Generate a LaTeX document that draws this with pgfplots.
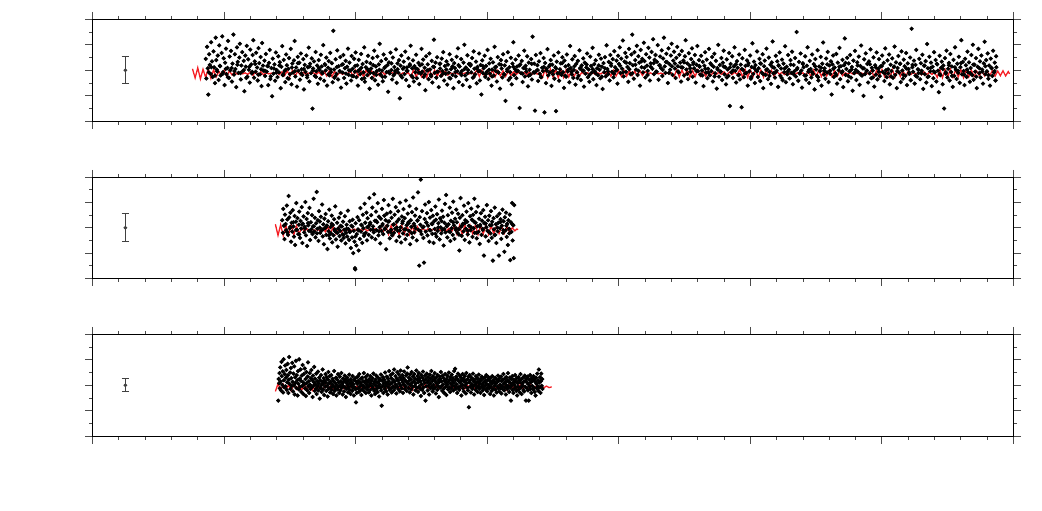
\documentclass[border=0pt]{standalone}
\usepackage{pgfplots}
\pgfplotsset{compat=1.18}
\definecolor{modelred}{RGB}{245,30,36}
\pgfplotsset{
  lcpanel/.style={
    scale only axis, width=460.5pt, height=51pt, anchor=south west,
    xmin=0, xmax=7000, ymin=-200, ymax=200,
    xtick distance=1000, ytick distance=100,
    minor x tick num=4, minor y tick num=1,
    tick align=outside, xticklabels={}, yticklabels={},
    major tick length=3.75pt, minor tick length=1.75pt,
    axis line style={line width=0.6pt},
    tick style={black!70, line width=0.45pt},
  },
  dots/.style={only marks, mark=*, mark size=0.85pt, mark options={fill=black, draw=none}},
  model/.style={no marks, modelred, line width=0.65pt},
  ebar/.style={black!75, mark=*, mark size=0.7pt,
    error bars/.cd, y dir=both, y explicit,
    error bar style={line width=0.45pt, black!75},
    error mark options={rotate=90, mark size=1.9pt, line width=0.45pt, black!75}},
}
\begin{document}
\begin{tikzpicture}
\path[use as bounding box] (0,0) rectangle (521pt,255pt);

% top panel
\begin{axis}[lcpanel, at={(46.25pt,194.35pt)}]
\addplot[ebar] coordinates {(250,0) +- (0,53)};
\addplot[dots] coordinates {
(861,45)(865,-32)(871,92)(876,8)(880,-95)(887,63)(891,21)(898,-14)(902,110)(909,35)
(913,-26)(920,74)(924,12)(931,-50)(936,128)(941,40)(948,-4)(952,58)(959,-38)(963,98)
(970,16)(974,-20)(981,68)(986,133)(992,-7)(997,47)(1004,-58)(1008,30)(1015,85)(1019,-15)
(1026,9)(1030,115)(1037,-30)(1042,54)(1048,0)(1053,76)(1060,-44)(1064,26)(1071,140)(1075,-17)
(1082,63)(1086,5)(1093,-66)(1098,90)(1104,33)(1109,-10)(1116,50)(1120,104)(1127,-36)(1131,19)
(1138,71)(1143,-3)(1149,37)(1154,-82)(1161,58)(1165,14)(1172,96)(1177,-25)(1183,43)(1188,2)
(1195,-48)(1199,81)(1206,23)(1211,-12)(1217,60)(1222,118)(1228,-29)(1233,35)(1240,-6)(1244,69)
(1251,11)(1256,-40)(1262,87)(1267,28)(1273,-16)(1278,52)(1285,-62)(1289,107)(1296,18)(1300,-1)
(1307,38)(1312,-22)(1318,64)(1324,-5)(1329,17)(1336,-58)(1341,29)(1347,80)(1352,-34)(1359,9)
(1365,-102)(1370,46)(1376,-13)(1383,23)(1388,-41)(1394,70)(1400,1)(1406,-27)(1412,55)(1417,-8)
(1424,32)(1430,-70)(1435,14)(1442,95)(1447,-19)(1453,41)(1460,-3)(1465,-46)(1471,62)(1477,20)
(1483,-31)(1489,6)(1494,48)(1501,-15)(1507,84)(1512,-55)(1519,27)(1524,-9)(1531,39)(1536,115)
(1542,-24)(1548,11)(1554,-64)(1560,53)(1565,-2)(1572,30)(1577,-37)(1584,66)(1589,4)(1595,-18)
(1602,44)(1607,-75)(1613,21)(1619,-6)(1625,58)(1631,-28)(1636,12)(1643,89)(1648,-44)(1654,26)
(1660,-11)(1666,47)(1672,-150)(1677,7)(1684,35)(1689,-22)(1696,72)(1701,-4)(1707,19)(1713,-53)
(1719,40)(1724,2)(1731,-33)(1736,61)(1742,15)(1748,-12)(1754,99)(1760,-41)(1765,24)(1772,-1)
(1777,50)(1783,-60)(1790,10)(1795,36)(1801,-20)(1807,68)(1813,-7)(1819,28)(1825,-47)(1830,155)
(1836,3)(1843,-25)(1848,43)(1854,-14)(1860,78)(1866,-36)(1871,16)(1878,-3)(1883,52)(1889,-68)
(1895,22)(1901,-9)(1906,60)(1912,-30)(1918,8)(1924,37)(1930,-52)(1935,14)(1942,85)(1947,-18)
(1953,30)(1959,-1)(1965,-40)(1970,56)(1977,6)(1982,-23)(1988,45)(1994,-6)(2000,70)
(2006,-27)(2012,19)(2017,-60)(2024,41)(2029,2)(2035,-15)(2041,64)(2047,-34)(2053,25)(2059,-8)
(2065,90)(2070,-45)(2077,12)(2082,33)(2088,-19)(2094,57)(2100,-2)(2106,-72)(2112,28)(2117,7)
(2124,-30)(2129,48)(2135,-11)(2141,77)(2147,-39)(2153,15)(2159,-4)(2165,54)(2171,-57)(2176,23)
(2183,104)(2188,-16)(2194,36)(2200,-1)(2206,-43)(2212,62)(2218,9)(2224,-25)(2230,44)(2235,-7)
(2242,20)(2247,-84)(2253,31)(2259,-12)(2265,69)(2271,1)(2277,-36)(2283,50)(2288,-20)(2295,13)
(2300,-3)(2306,82)(2312,-49)(2318,27)(2324,-9)(2330,40)(2336,-110)(2341,18)(2348,58)(2353,-28)
(2359,6)(2365,34)(2371,-15)(2377,73)(2383,-38)(2389,11)(2394,-2)(2401,47)(2406,-62)(2412,24)
(2418,96)(2424,-21)(2430,8)(2436,39)(2442,-44)(2447,16)(2454,-8)(2459,61)(2465,-31)(2471,4)
(2477,29)(2483,-54)(2489,19)(2495,-13)(2501,84)(2506,-5)(2513,42)(2518,-26)(2524,10)(2530,-78)
(2536,55)(2542,-1)(2548,23)(2554,-35)(2560,66)(2566,3)(2571,-17)(2578,37)(2583,-48)(2589,14)
(2595,120)(2601,-10)(2607,30)(2613,-29)(2619,51)(2625,-6)(2631,-66)(2637,25)(2642,7)(2649,-22)
(2654,46)(2660,-3)(2666,71)(2672,-40)(2678,17)(2684,-14)(2690,35)(2696,-56)
(2702,22)(2708,-9)(2714,63)(2720,-32)(2725,5)(2731,41)(2737,-18)(2743,-70)(2749,28)(2755,9)
(2761,-24)(2767,53)(2773,-4)(2778,86)(2785,-46)(2790,15)(2796,-12)(2802,44)(2808,-2)(2814,-58)
(2820,30)(2826,100)(2832,-20)(2838,11)(2843,-37)(2850,59)(2855,1)(2861,25)(2867,-65)(2873,18)
(2879,-8)(2885,48)(2891,-29)(2897,74)(2903,6)(2908,-16)(2915,34)(2920,-51)(2926,13)(2932,-3)
(2938,66)(2944,-40)(2950,21)(2956,-95)(2962,39)(2968,-11)(2973,8)(2980,57)(2985,-26)(2991,17)
(2997,-6)(3003,80)(3009,-34)(3015,27)(3021,-13)(3026,45)(3033,-60)(3038,3)(3044,31)(3050,-21)
(3056,92)(3062,-2)(3068,14)(3074,-44)(3080,52)(3086,-9)(3092,24)(3097,-72)(3104,40)(3109,7)
(3115,-28)(3121,63)(3127,-15)(3133,19)(3139,-120)(3145,36)(3151,-4)(3157,71)(3162,-38)(3169,12)
(3174,-7)(3180,49)(3186,-55)(3192,26)(3198,110)(3204,-19)(3210,5)(3216,42)(3222,-31)(3227,15)
(3234,-2)(3239,58)(3246,-148)(3251,23)(3257,-11)(3263,37)(3269,-46)(3275,9)(3281,77)(3286,-24)
(3292,18)(3298,-5)(3304,55)(3310,-63)(3316,30)(3322,2)(3328,-17)(3334,44)(3340,-36)(3345,132)
(3352,-8)(3357,26)(3363,-158)(3369,60)(3375,-1)(3381,20)(3387,-42)(3393,35)
(3399,-14)(3405,67)(3411,-27)(3417,10)(3423,-3)(3429,48)(3435,-165)(3440,29)(3447,-50)(3452,6)
(3458,83)(3464,-20)(3470,16)(3476,-9)(3482,40)(3488,-61)(3494,22)(3500,-2)(3506,58)(3511,-33)
(3518,12)(3523,-160)(3529,34)(3535,-12)(3541,70)(3547,-41)(3553,4)(3559,27)(3565,-18)(3571,51)
(3576,-7)(3583,-69)(3588,38)(3595,15)(3600,-25)(3606,62)(3612,-4)(3618,20)(3624,-47)(3630,95)
(3635,9)(3642,-16)(3647,43)(3654,-30)(3659,1)(3665,56)(3671,-56)(3677,25)(3683,-8)(3689,37)
(3694,-22)(3701,78)(3706,6)(3712,-38)(3718,19)(3724,-1)(3730,47)(3736,-64)(3742,30)(3747,-13)
(3754,11)(3759,66)(3765,-27)(3771,3)(3777,-45)(3783,54)(3789,17)(3795,-9)(3801,88)(3806,-35)
(3813,24)(3818,-4)(3824,39)(3830,-58)(3836,8)(3842,-19)(3848,61)(3854,2)(3860,-31)(3865,46)
(3872,14)(3877,-73)(3884,28)(3889,-7)(3895,52)(3901,-24)(3907,98)(3913,5)(3919,-15)(3924,33)
(3930,-40)(3936,60)(3942,18)(3948,-6)(3954,44)(3960,-28)(3966,75)(3972,12)(3978,-2)(3983,38)
(3990,-52)(3995,57)(4001,25)(4007,90)(4013,-11)(4019,46)(4025,6)(4031,117)(4037,-24)(4043,34)
(4049,68)(4055,-6)(4060,52)(4066,13)(4072,-45)(4078,84)(4084,28)(4090,-15)(4096,62)(4102,140)
(4107,20)(4114,-33)(4119,71)(4125,40)(4131,3)(4137,96)(4143,-18)(4149,55)(4155,30)(4161,-60)
(4166,80)(4173,12)(4178,45)(4184,-8)(4190,108)(4196,36)(4202,-28)(4208,63)(4214,18)(4220,-2)
(4225,88)(4232,50)(4237,-40)(4243,27)(4249,72)(4255,6)(4261,122)(4267,-15)(4272,41)(4279,60)
(4284,-5)(4290,33)(4296,99)(4302,-37)(4308,20)(4314,54)(4320,9)(4326,78)(4331,-22)(4337,46)
(4343,128)(4349,15)(4355,-10)(4361,65)(4367,32)(4373,-50)(4378,86)(4385,24)(4390,2)(4396,58)
(4402,104)(4408,-18)(4414,38)(4420,73)(4426,7)(4432,-30)(4437,49)(4444,92)(4449,16)(4455,-8)
(4461,61)(4467,30)(4473,-44)(4479,76)(4485,11)(4491,38)(4496,-20)(4503,55)(4508,118)(4514,3)
(4520,27)(4526,-35)(4532,67)(4538,19)(4544,-6)(4550,44)(4556,86)(4561,-25)(4567,31)(4573,8)
(4579,60)(4585,-48)(4591,22)(4597,95)(4602,-3)(4609,40)(4614,14)(4620,-17)(4626,57)(4632,-1)
(4638,33)(4644,-62)(4650,18)(4656,71)(4662,-9)(4668,42)(4673,-31)(4679,6)(4685,84)(4691,-20)
(4697,27)(4703,-3)(4709,52)(4715,-44)(4721,14)(4726,65)(4732,-12)(4738,37)(4744,-72)(4750,9)
(4756,100)(4762,-25)(4768,21)(4774,-5)(4780,48)(4785,-38)(4791,30)(4797,77)(4803,-16)(4809,12)
(4815,-55)(4821,43)(4827,3)(4833,-22)(4839,68)(4844,-140)(4850,25)(4856,-8)(4862,55)(4868,-30)
(4874,15)(4880,90)(4886,-2)(4892,-48)(4898,36)(4903,10)(4909,-19)(4915,62)(4921,-36)(4927,22)
(4933,-145)(4939,47)(4945,1)(4951,-27)(4957,80)(4963,17)(4969,-11)(4975,39)(4980,-60)(4986,28)
(4992,-4)(4998,58)(5004,-33)(5010,13)(5016,106)(5022,-14)(5028,34)(5034,-50)(5039,20)(5045,-1)
(5051,74)(5057,-26)(5063,8)(5069,45)(5075,-42)(5081,26)(5087,-9)(5093,63)(5098,-70)(5104,16)
(5110,38)(5116,-18)(5122,85)(5128,4)(5134,-35)(5140,50)(5146,-6)(5152,22)(5157,-53)(5163,31)
(5169,113)(5175,-12)(5181,10)(5187,-29)(5193,57)(5199,-2)(5205,35)(5211,-65)(5216,19)(5222,70)
(5228,-21)(5234,7)(5240,42)(5246,-39)(5252,26)(5258,-7)(5264,94)(5270,-47)(5275,14)(5281,-16)
(5287,60)(5293,2)(5299,-32)(5305,40)(5311,-10)(5317,73)(5323,-55)(5329,21)(5334,-4)(5340,48)
(5346,-24)(5352,150)(5358,9)(5364,-41)(5370,33)(5376,-13)(5382,66)(5388,-1)(5393,-68)(5399,28)
(5405,12)(5411,-20)(5417,55)(5423,-37)(5429,18)(5435,90)(5441,-6)(5447,-50)(5452,37)(5458,5)
(5464,-28)(5470,62)(5476,-14)(5482,24)(5488,-75)(5494,44)(5500,3)(5506,-22)(5511,79)(5517,-40)
(5523,15)(5529,-3)(5535,53)(5541,-60)(5547,26)(5553,109)(5559,-17)(5565,8)(5570,-33)(5576,46)
(5582,-8)(5588,72)(5594,-46)(5600,19)(5606,-2)(5612,35)(5618,-95)(5624,23)(5629,58)(5635,-26)
(5641,11)(5647,-12)(5653,64)(5659,-52)(5665,30)(5671,0)(5677,88)(5683,-35)(5688,16)(5694,-9)
(5700,41)(5706,-66)(5712,20)(5718,125)(5724,-18)(5730,5)(5736,49)(5742,-43)(5747,27)(5753,-4)
(5759,60)(5765,-29)(5771,13)(5777,-80)(5783,38)(5789,-11)(5795,76)(5801,2)(5806,-38)(5812,31)
(5818,-6)(5824,54)(5830,-57)(5836,17)(5842,97)(5848,-21)(5854,8)(5860,-100)(5865,43)(5871,-15)
(5877,66)(5883,-3)(5889,25)(5895,-48)(5901,35)(5907,-12)(5913,82)(5919,-31)(5924,10)(5930,-1)
(5936,51)(5942,-64)(5948,20)(5954,-17)(5960,70)(5966,-36)(5972,6)(5978,44)(5983,-23)(5989,15)
(5995,-105)(6001,58)(6007,-7)(6013,29)(6019,-42)(6025,86)(6031,1)(6037,-27)(6042,39)(6048,-12)
(6054,62)(6060,-55)(6066,22)(6072,-3)(6078,47)(6084,-30)(6090,13)(6096,93)(6101,-18)(6107,31)
(6113,-70)(6119,9)(6125,56)(6131,-9)(6137,25)(6143,-46)(6149,74)(6155,-1)(6160,-33)(6166,42)
(6172,16)(6178,-21)(6184,68)(6190,-58)(6196,27)(6202,5)(6208,-14)(6214,50)(6219,-39)(6225,163)
(6231,12)(6237,-6)(6243,38)(6249,-52)(6255,21)(6261,80)(6267,-25)(6273,4)(6278,-11)(6284,45)
(6290,-35)(6296,28)(6302,-2)(6308,61)(6314,-73)(6320,18)(6326,-15)(6332,36)(6337,-48)(6343,103)
(6349,8)(6355,-24)(6361,53)(6367,-4)(6373,30)(6379,-62)(6385,14)(6391,-31)(6396,71)(6402,-8)
(6408,40)(6414,-44)(6420,23)(6426,-1)(6432,-86)(6438,57)(6444,-19)(6450,10)(6455,34)(6461,-55)
(6467,19)(6473,-150)(6479,48)(6485,-13)(6491,77)(6497,-28)(6503,6)(6509,29)(6514,-40)(6520,64)
(6526,-7)(6532,15)(6538,-65)(6544,41)(6550,-22)(6556,90)(6562,2)(6568,-34)(6573,26)(6579,-10)
(6585,53)(6591,-49)(6597,12)(6603,118)(6609,-16)(6615,33)(6621,-3)(6627,-58)(6632,45)(6638,20)
(6644,-26)(6650,73)(6656,-8)(6662,31)(6668,-45)(6674,9)(6680,60)(6686,-19)(6691,100)(6697,-37)
(6703,22)(6709,-5)(6715,48)(6721,-70)(6727,14)(6733,84)(6739,-11)(6745,35)(6750,-28)(6756,58)
(6762,3)(6768,-52)(6774,27)(6780,112)(6786,-15)(6792,40)(6798,-4)(6804,66)(6809,-33)(6815,19)
(6821,-60)(6827,46)(6833,8)(6839,-22)(6845,77)(6851,-9)(6857,30)(6863,-40)(6868,55)(6870,12)
(884,-8)(903,12)(931,-21)(944,3)(968,18)(990,-14)(1013,6)(1029,-27)(1057,9)(1079,-3)
(1101,22)(1124,-11)(1150,1)(1169,-30)(1193,14)(1214,-6)(1236,25)(1260,-17)(1281,4)(1310,-2)
(1333,16)(1355,-24)(1378,7)(1397,-9)(1421,19)(1449,-15)(1468,2)(1492,-33)(1515,11)(1538,-4)
(1561,28)(1586,-12)(1606,5)(1632,-20)(1651,15)(1675,-1)(1699,-26)(1720,9)(1744,-7)(1769,21)
(1791,-16)(1812,3)(1838,-29)(1858,13)(1881,-5)(1903,24)(1927,-13)(1949,0)(1973,-22)(1996,17)
(2019,-3)(2043,10)(2066,-31)(2087,6)(2111,-10)(2134,20)(2157,-18)(2180,2)(2203,-25)(2226,14)
(2250,-6)(2272,27)(2296,-14)(2319,4)(2343,-21)(2366,11)(2388,-2)(2411,18)(2435,-28)(2457,7)
(2480,-9)(2504,23)(2527,-16)(2550,1)(2574,-23)(2596,13)(2620,-5)(2643,26)(2666,-12)(2689,3)
(2712,-30)(2736,15)(2758,-7)(2782,20)(2805,-19)(2828,5)(2851,-11)(2874,24)(2898,-26)(2921,8)
(2944,-3)(2967,17)(2990,-15)(3014,2)(3037,-24)(3060,12)(3083,-8)(3106,22)(3130,-17)(3152,4)
(3176,-29)(3199,14)(3222,-4)(3245,19)(3268,-13)(3292,6)(3315,-21)(3338,25)(3361,-9)(3384,1)
(3408,-27)(3431,13)(3454,-2)(3477,21)(3500,-16)(3524,7)(3547,-10)(3570,28)(3593,-22)(3616,3)
(3640,-6)(3662,16)(3686,-31)(3709,10)(3732,-1)(3755,23)(3778,-18)(3802,5)(3825,-12)(3848,19)
(3871,-25)(3894,8)(3918,-4)(3941,26)(3963,-14)(3987,2)(4010,18)(4033,-8)(4056,30)(4080,4)
(4103,-12)(4126,22)(4149,-2)(4172,35)(4195,10)(4219,-18)(4242,14)(4265,28)(4288,-6)(4311,20)
(4334,2)(4358,33)(4381,-10)(4404,16)(4427,26)(4450,-4)(4473,12)(4496,31)(4520,-14)(4543,8)
(4566,24)(4589,-2)(4612,17)(4635,-20)(4658,6)(4681,-9)(4705,21)(4728,-24)(4751,3)(4774,-6)
(4797,15)(4821,-28)(4844,11)(4867,-1)(4890,24)(4913,-17)(4936,5)(4959,-12)(4982,20)(5006,-26)
(5029,9)(5052,-3)(5075,27)(5098,-15)(5121,2)(5145,-22)(5168,13)(5191,-8)(5214,18)(5237,-30)
(5260,7)(5283,-5)(5307,22)(5330,-16)(5353,4)(5376,-11)(5399,25)(5422,-20)(5445,1)(5468,-7)
(5492,16)(5515,-27)(5538,10)(5561,-2)(5584,23)(5607,-14)(5630,6)(5653,-19)(5677,14)(5700,-4)
(5723,29)(5746,-23)(5769,3)(5792,-10)(5815,19)(5838,-16)(5862,8)(5885,-1)(5908,24)(5931,-28)
(5954,11)(5977,-6)(6000,17)(6023,-13)(6047,4)(6070,-24)(6093,15)(6116,-3)(6139,26)(6162,-18)
(6185,7)(6208,-9)(6232,21)(6255,-21)(6278,2)(6301,-12)(6324,18)(6347,-26)(6370,9)(6393,-4)
(6417,25)(6440,-15)(6463,5)(6486,-8)(6509,20)(6532,-22)(6555,12)(6578,-1)(6601,28)(6625,-17)
(6648,3)(6671,-11)(6694,22)(6717,-25)(6740,8)(6763,-5)(6786,16)(6809,-19)(6832,10)(6856,-3)
};
\addplot[model] coordinates {
(760,6)(780,-30)(800,10)(820,-34)(840,4)(860,-28)(880,8)(900,-32)(920,2)(940,-26)
(960,-4)(980,-20)(1000,0)(1020,-24)(1040,-2)(1060,-18)(1080,-8)(1100,-15)(1120,-9)(1140,-14)
(1160,-10)(1180,-16)(1200,-6)(1220,-20)(1240,-3)(1260,-22)(1280,-5)(1300,-18)(1320,-9)(1340,-14)
(1360,-11)(1380,-13)(1400,-9)(1420,-17)(1440,-6)(1460,-21)(1480,-2)(1500,-24)(1520,0)(1540,-23)
(1560,-4)(1580,-19)(1600,-8)(1620,-15)(1640,-11)(1660,-13)(1680,-10)(1700,-16)(1720,-7)(1740,-19)
(1760,-4)(1780,-22)(1800,-1)(1820,-25)(1840,-3)(1860,-20)(1880,-7)(1900,-16)(1920,-10)(1940,-13)
(1960,0)(1980,-25)(2000,1)(2020,-23)(2040,-1)(2060,-26)(2080,2)(2100,-22)(2120,0)(2140,-24)
(2160,-2)(2180,-21)(2200,-4)(2220,-17)(2240,-8)(2260,-16)(2280,-9)(2300,-15)(2320,-8)(2340,-17)
(2360,-10)(2380,-14)(2400,-9)(2420,-26)(2440,2)(2460,-27)(2480,3)(2500,-25)(2520,0)(2540,-28)
(2560,4)(2580,-26)(2600,1)(2620,-24)(2640,-1)(2660,-22)(2680,-3)(2700,-19)(2720,-10)(2740,-14)
(2760,-9)(2780,-15)(2800,-10)(2820,-13)(2840,-9)(2860,-15)(2880,-11)(2900,-14)(2920,0)(2940,-24)
(2960,1)(2980,-25)(3000,-1)(3020,-23)(3040,2)(3060,-26)(3080,0)(3100,-22)(3120,-2)(3140,-24)
(3160,-4)(3180,-20)(3200,-6)(3220,-17)(3240,-7)(3260,-16)(3280,-8)(3300,-18)(3320,-7)(3340,-16)
(3360,-9)(3380,-15)(3400,-8)(3420,-28)(3440,4)(3460,-29)(3480,5)(3500,-27)(3520,3)(3540,-30)
(3560,4)(3580,-28)(3600,2)(3620,-26)(3640,1)(3660,-25)(3680,-1)(3700,-22)(3720,-8)(3740,-16)
(3760,-9)(3780,-15)(3800,-8)(3820,-16)(3840,-10)(3860,-14)(3880,-9)(3900,-15)(3920,-1)(3940,-23)
(3960,0)(3980,-22)(4000,-2)(4020,-24)(4040,1)(4060,-23)(4080,-1)(4100,-21)(4120,-3)(4140,-22)
(4160,-2)(4180,-20)(4200,-5)(4220,-14)(4240,-10)(4260,-15)(4280,-9)(4300,-14)(4320,-11)(4340,-15)
(4360,-9)(4380,-14)(4400,-10)(4420,-25)(4440,2)(4460,-26)(4480,1)(4500,-24)(4520,3)(4540,-27)
(4560,0)(4580,-25)(4600,2)(4620,-23)(4640,-1)(4660,-24)(4680,-3)(4700,-20)(4720,-7)(4740,-17)
(4760,-8)(4780,-16)(4800,-6)(4820,-18)(4840,-7)(4860,-17)(4880,-8)(4900,-16)(4920,3)(4940,-27)
(4960,4)(4980,-28)(5000,2)(5020,-26)(5040,5)(5060,-29)(5080,1)(5100,-27)(5120,3)(5140,-25)
(5160,0)(5180,-24)(5200,-2)(5220,-16)(5240,-8)(5260,-17)(5280,-9)(5300,-15)(5320,-8)(5340,-16)
(5360,-9)(5380,-15)(5400,-10)(5420,-24)(5440,0)(5460,-25)(5480,1)(5500,-23)(5520,-1)(5540,-24)
(5560,0)(5580,-22)(5600,2)(5620,-25)(5640,-1)(5660,-23)(5680,-2)(5700,-21)(5720,-10)(5740,-14)
(5760,-9)(5780,-15)(5800,-11)(5820,-13)(5840,-10)(5860,-14)(5880,-9)(5900,-15)(5920,2)(5940,-26)
(5960,1)(5980,-27)(6000,3)(6020,-25)(6040,0)(6060,-28)(6080,2)(6100,-26)(6120,1)(6140,-24)
(6160,-1)(6180,-25)(6200,-3)(6220,-17)(6240,-7)(6260,-16)(6280,-8)(6300,-18)(6320,-6)(6340,-17)
(6360,-8)(6380,-16)(6400,-7)(6420,-28)(6440,4)(6460,-29)(6480,3)(6500,-27)(6520,5)(6540,-28)
(6560,2)(6580,-26)(6600,3)(6620,-29)(6640,1)(6660,-26)(6680,0)(6700,-24)(6720,-3)(6740,-21)
(6760,-2)(6780,-22)(6800,-4)(6820,-20)(6840,-1)(6860,-23)(6880,-3)(6900,-21)(6920,-2)(6940,-22)
(6960,-5)(6970,-14)
};
\end{axis}

% middle panel
\begin{axis}[lcpanel, at={(46.25pt,115.85pt)}, height=50.5pt]
\addplot[ebar] coordinates {(250,0) +- (0,56)};
\addplot[dots] coordinates {
(1442,30)(1447,-20)(1450,75)(1455,8)(1459,-45)(1463,52)(1468,15)(1472,-10)(1477,88)(1481,33)
(1486,-28)(1490,126)(1495,41)(1499,-2)(1504,60)(1509,-55)(1513,20)(1518,-15)(1522,70)(1527,5)
(1531,-35)(1536,47)(1540,-68)(1545,24)(1549,98)(1554,-8)(1558,38)(1563,-25)(1568,12)(1572,64)
(1577,-40)(1581,27)(1586,-3)(1590,82)(1595,-60)(1599,16)(1604,45)(1609,-18)(1613,4)(1618,102)
(1622,-30)(1627,35)(1631,-72)(1636,58)(1640,10)(1645,-12)(1649,79)(1654,-48)(1659,22)(1663,-6)
(1668,50)(1672,-25)(1677,6)(1681,115)(1686,-15)(1690,40)(1695,-38)(1700,18)(1704,142)(1709,-4)
(1713,30)(1718,-52)(1722,66)(1727,1)(1731,-20)(1736,44)(1740,-10)(1745,92)(1750,-34)(1754,14)
(1759,-65)(1763,36)(1768,-1)(1772,55)(1777,-28)(1781,9)(1786,-84)(1791,26)(1795,-14)(1800,72)
(1804,-42)(1809,3)(1813,-22)(1818,48)(1822,-58)(1827,11)(1832,-30)(1836,34)(1841,-6)(1845,85)
(1850,-46)(1854,-18)(1859,20)(1863,-75)(1868,-2)(1873,40)(1877,-33)(1882,-12)(1886,58)(1891,-50)
(1895,5)(1900,-26)(1904,24)(1909,-40)(1914,-8)(1918,46)(1923,-62)(1927,-20)(1932,12)(1936,-35)
(1941,68)(1945,-5)(1950,-48)(1955,26)(1959,-15)(1964,-80)(1968,8)(1973,-38)(1977,32)(1982,-100)
(1986,-12)(1991,-55)(1995,-160)(1997,-165)(2000,18)(2005,-70)(2009,-25)(2014,42)(2018,-6)(2023,-90)
(2027,30)(2032,-44)(2036,78)(2041,-15)(2045,10)(2050,-60)(2055,52)(2059,-2)(2064,-32)(2068,95)
(2073,20)(2077,-20)(2082,60)(2086,-50)(2091,38)(2096,4)(2100,-28)(2105,118)(2109,14)(2114,-8)
(2118,50)(2123,-38)(2127,80)(2132,6)(2137,-18)(2141,133)(2146,28)(2150,-45)(2155,64)(2159,-10)
(2164,22)(2168,98)(2173,-30)(2177,44)(2182,2)(2187,-62)(2191,36)(2196,-12)(2200,75)(2205,15)
(2209,-25)(2214,110)(2218,48)(2223,-5)(2228,30)(2232,-85)(2237,56)(2241,8)(2246,-16)(2250,90)
(2255,26)(2259,-42)(2264,62)(2269,-8)(2273,40)(2278,-30)(2282,115)(2287,12)(2291,-20)(2296,52)
(2300,-4)(2305,82)(2310,-52)(2314,24)(2319,-12)(2323,66)(2328,34)(2332,-35)(2337,100)(2341,2)
(2346,-58)(2351,45)(2355,18)(2360,-22)(2364,74)(2369,-6)(2373,38)(2378,-45)(2382,108)(2387,10)
(2392,-28)(2396,56)(2401,22)(2405,-12)(2410,86)(2414,-65)(2419,30)(2423,4)(2428,62)(2433,-38)
(2437,120)(2442,16)(2446,-18)(2451,48)(2455,-2)(2460,75)(2464,-50)(2469,28)(2474,140)(2478,-8)
(2483,-150)(2487,42)(2492,12)(2495,191)(2501,-25)(2505,66)(2510,2)(2515,-40)(2520,-138)(2524,35)
(2528,92)(2533,-15)(2537,20)(2542,58)(2546,-30)(2551,8)(2556,102)(2560,-55)(2565,40)(2569,-10)
(2574,70)(2578,16)(2583,-24)(2587,48)(2592,-60)(2597,26)(2601,-4)(2606,84)(2610,32)(2615,-35)
(2619,54)(2624,-12)(2628,18)(2633,112)(2638,-46)(2642,38)(2647,2)(2651,-22)(2656,68)(2660,-8)
(2665,44)(2669,-70)(2674,20)(2679,95)(2683,-18)(2688,130)(2692,6)(2697,-38)(2701,50)(2706,14)
(2710,-14)(2715,80)(2720,-52)(2724,28)(2729,-2)(2733,60)(2738,-28)(2742,104)(2747,10)(2751,-44)
(2756,36)(2761,-8)(2765,72)(2770,22)(2774,-20)(2779,56)(2783,-6)(2788,-90)(2792,40)(2797,118)
(2802,4)(2806,-32)(2811,50)(2815,16)(2820,-14)(2824,88)(2829,-48)(2833,30)(2838,-4)(2843,64)
(2847,24)(2852,-26)(2856,98)(2861,8)(2865,-58)(2870,46)(2874,-10)(2879,76)(2884,32)(2888,-36)
(2893,52)(2897,-2)(2902,115)(2906,-20)(2911,20)(2915,62)(2920,-42)(2925,6)(2929,84)(2934,-16)
(2938,36)(2943,-64)(2947,12)(2952,58)(2956,-28)(2961,28)(2966,-8)(2970,70)(2975,-110)(2979,18)
(2984,44)(2988,-34)(2993,2)(2997,90)(3002,-12)(3007,30)(3011,-52)(3016,48)(3020,10)(3025,-22)
(3029,66)(3034,-40)(3038,24)(3043,-130)(3048,38)(3052,-6)(3057,80)(3061,-28)(3066,14)(3070,-60)
(3075,46)(3079,-14)(3084,20)(3089,-110)(3093,56)(3098,-2)(3102,34)(3107,-44)(3111,8)(3116,72)
(3120,-20)(3125,26)(3130,-95)(3134,42)(3139,-10)(3143,60)(3148,-36)(3152,16)(3157,-68)(3161,30)
(3166,-4)(3171,52)(3175,-128)(3180,22)(3184,-16)(3189,98)(3193,-50)(3198,10)(3202,-120)(3205,90)
(1458,10)(1481,-18)(1503,4)(1526,22)(1548,-9)(1571,-26)(1593,13)(1616,-3)(1638,19)(1661,-15)
(1683,6)(1706,-22)(1728,25)(1751,-7)(1773,2)(1796,-30)(1818,16)(1841,-12)(1863,-20)(1886,8)
(1908,-28)(1931,-4)(1953,-16)(1976,5)(1998,-34)(2021,-10)(2043,12)(2066,-24)(2088,3)(2111,20)
(2133,-8)(2156,28)(2178,-14)(2201,9)(2223,-2)(2246,24)(2268,-19)(2291,14)(2313,1)(2336,-11)
(2358,26)(2381,-6)(2403,18)(2426,-21)(2448,7)(2471,30)(2493,-13)(2516,4)(2538,21)(2561,-9)
(2583,15)(2606,-24)(2628,2)(2651,27)(2673,-5)(2696,12)(2718,-17)(2741,22)(2763,-1)(2786,-27)
(2808,9)(2831,19)(2853,-12)(2876,3)(2898,25)(2921,-20)(2943,6)(2966,-4)(2988,17)(3011,-15)
(3033,11)(3056,-29)(3078,1)(3101,23)(3123,-10)(3146,8)(3168,-22)(3191,14)
};
\addplot[model] coordinates {
(1390,14)(1410,-30)(1430,12)(1450,-32)(1470,10)(1490,-29)(1510,13)(1530,-28)(1550,8)(1570,-24)
(1590,0)(1610,-14)(1630,-4)(1650,-12)(1670,-5)(1690,-13)(1710,-3)(1730,-14)(1750,-2)(1770,-16)
(1790,4)(1810,-22)(1830,6)(1850,-24)(1870,2)(1890,-18)(1910,-4)(1930,-11)(1950,-6)(1970,-10)
(1990,-5)(2010,-11)(2030,-6)(2050,-10)(2070,-5)(2090,-12)(2110,-4)(2130,-13)(2150,-3)(2170,-14)
(2190,-2)(2210,-16)(2230,8)(2250,-26)(2270,10)(2290,-28)(2310,12)(2330,-27)(2350,9)(2370,-25)
(2390,11)(2410,-26)(2430,7)(2450,-22)(2470,4)(2490,-18)(2510,0)(2530,-14)(2550,-4)(2570,-12)
(2590,-5)(2610,-11)(2630,-4)(2650,-13)(2670,-3)(2690,-12)(2710,-2)(2730,-15)(2750,8)(2770,-26)
(2790,10)(2810,-27)(2830,12)(2850,-28)(2870,9)(2890,-25)(2910,11)(2930,-27)(2950,8)(2970,-24)
(2990,10)(3010,-26)(3030,9)(3050,-25)(3070,7)(3090,-23)(3110,6)(3130,-22)(3150,3)(3170,-18)
(3190,0)(3210,-12)(3225,-5)(3235,-7)
};
\end{axis}

% bottom panel
\begin{axis}[lcpanel, at={(46.25pt,36.85pt)}]
\addplot[ebar] coordinates {(250,0) +- (0,26)};
\addplot[dots] coordinates {
(1412,-60)(1415,25)(1418,8)(1421,48)(1424,-12)(1427,70)(1430,15)(1433,-20)(1436,92)(1439,36)
(1442,2)(1446,55)(1449,-28)(1452,102)(1455,20)(1458,-8)(1461,44)(1464,78)(1467,-4)(1470,30)
(1474,60)(1477,-18)(1480,12)(1483,84)(1486,40)(1489,-30)(1492,22)(1495,111)(1499,5)(1502,50)
(1505,-14)(1508,68)(1511,28)(1514,-2)(1518,88)(1521,14)(1524,-24)(1527,46)(1530,0)(1533,74)
(1537,-36)(1540,32)(1543,10)(1546,96)(1549,-10)(1552,40)(1556,20)(1559,-40)(1562,56)(1565,6)
(1568,-16)(1571,102)(1575,26)(1578,-6)(1581,62)(1584,18)(1587,-26)(1590,38)(1594,-2)(1597,80)
(1600,12)(1603,-34)(1606,44)(1609,4)(1613,66)(1616,-12)(1619,24)(1622,-42)(1625,52)(1628,8)
(1632,-20)(1635,34)(1638,90)(1641,-4)(1644,16)(1647,-30)(1651,48)(1654,2)(1657,-14)(1660,28)
(1663,60)(1666,-8)(1670,20)(1673,-46)(1676,38)(1679,-2)(1682,12)(1685,72)(1689,-22)(1692,26)
(1695,4)(1698,-12)(1701,46)(1704,-34)(1708,16)(1711,-4)(1714,54)(1717,-20)(1720,8)(1723,30)
(1727,-52)(1730,20)(1733,-10)(1736,40)(1739,0)(1742,-26)(1746,14)(1749,62)(1752,-16)(1755,6)
(1758,28)(1761,-38)(1765,18)(1768,-6)(1771,44)(1774,10)(1777,-22)(1780,32)(1784,-2)(1787,-44)
(1790,22)(1793,52)(1796,-14)(1799,8)(1803,36)(1806,-28)(1809,14)(1812,-8)(1815,40)(1818,-18)
(1822,4)(1825,26)(1828,-34)(1831,18)(1834,-4)(1837,56)(1841,-22)(1844,10)(1847,-12)(1850,30)
(1853,-40)(1856,2)(1860,22)(1863,-16)(1866,44)(1869,-6)(1872,12)(1875,-30)(1879,34)(1882,-2)
(1885,-20)(1888,16)(1891,48)(1894,-10)(1898,6)(1901,-36)(1904,26)(1907,-4)(1910,14)(1913,-24)
(1917,38)(1920,-8)(1923,20)(1926,-46)(1929,10)(1932,-14)(1936,30)(1939,2)(1942,-28)(1945,18)
(1948,-6)(1951,42)(1955,-18)(1958,8)(1961,-34)(1964,24)(1967,-2)(1970,12)(1974,-22)(1977,36)
(1980,-10)(1983,4)(1986,-40)(1989,20)(1993,-8)(1996,28)(1999,-16)(2002,-67)(2005,14)(2008,-30)
(2012,6)(2015,34)(2018,-12)(2021,18)(2024,-26)(2027,44)(2031,-4)(2034,10)(2037,-20)(2040,26)
(2043,-38)(2046,2)(2050,30)(2053,-14)(2056,16)(2059,-2)(2062,48)(2065,-24)(2069,12)(2072,-8)
(2075,32)(2078,-30)(2081,20)(2084,4)(2088,-16)(2091,40)(2094,-6)(2097,14)(2100,-28)(2103,24)
(2107,0)(2110,-18)(2113,36)(2116,8)(2119,-40)(2122,18)(2126,-4)(2129,28)(2132,-12)(2135,46)
(2138,6)(2141,-22)(2145,14)(2148,-34)(2151,22)(2154,-2)(2157,38)(2160,-14)(2164,10)(2167,-26)
(2170,30)(2173,-6)(2176,16)(2179,-44)(2183,4)(2186,24)(2189,-10)(2192,42)(2195,-20)(2198,-80)
(2202,18)(2205,-4)(2208,32)(2211,-30)(2214,8)(2217,22)(2221,-14)(2224,50)(2227,-2)(2230,12)
(2233,-24)(2236,34)(2240,6)(2243,-36)(2246,26)(2249,-8)(2252,16)(2255,56)(2259,-18)(2262,4)
(2265,40)(2268,-12)(2271,28)(2274,-28)(2278,10)(2281,46)(2284,-4)(2287,20)(2290,-20)(2293,62)
(2297,14)(2300,-10)(2303,36)(2306,2)(2309,-32)(2312,26)(2316,52)(2319,-6)(2322,18)(2325,-16)
(2328,44)(2331,8)(2335,-24)(2338,32)(2341,58)(2344,-2)(2347,22)(2350,-12)(2354,40)(2357,12)
(2360,-30)(2363,28)(2366,4)(2369,54)(2373,-14)(2376,20)(2379,-4)(2382,38)(2385,14)(2388,-22)
(2392,46)(2395,70)(2398,6)(2401,-10)(2404,30)(2407,18)(2411,-28)(2414,42)(2417,2)(2420,24)
(2423,-16)(2426,52)(2430,10)(2433,-6)(2436,34)(2439,-36)(2442,16)(2445,44)(2449,-2)(2452,26)
(2455,-20)(2458,8)(2461,58)(2464,-10)(2468,22)(2471,36)(2474,-26)(2477,12)(2480,48)(2483,-4)
(2487,28)(2490,-14)(2493,16)(2496,-42)(2499,40)(2502,4)(2506,-18)(2509,30)(2512,54)(2515,-8)
(2518,20)(2521,-30)(2525,10)(2528,38)(2531,-60)(2534,24)(2537,-4)(2540,46)(2544,12)(2547,-20)
(2550,32)(2553,-2)(2556,18)(2559,-36)(2563,42)(2566,6)(2569,-12)(2572,28)(2575,56)(2578,-6)
(2582,16)(2585,-24)(2588,36)(2591,2)(2594,-14)(2597,24)(2601,48)(2604,-8)(2607,14)(2610,-32)
(2613,30)(2616,8)(2620,-18)(2623,40)(2626,-2)(2629,20)(2632,-46)(2635,12)(2639,34)(2642,-10)
(2645,26)(2648,52)(2651,-4)(2654,16)(2658,-22)(2661,38)(2664,4)(2667,-14)(2670,28)(2673,-30)
(2677,18)(2680,44)(2683,-6)(2686,10)(2689,-38)(2692,24)(2696,2)(2699,36)(2702,-16)(2705,14)
(2708,50)(2711,-8)(2715,22)(2718,-26)(2721,32)(2724,6)(2727,-12)(2730,42)(2734,18)(2737,-2)
(2740,28)(2743,-20)(2746,10)(2749,56)(2753,-4)(2756,65)(2759,20)(2762,-14)(2765,34)(2768,4)
(2772,-30)(2775,24)(2778,46)(2781,-8)(2784,16)(2787,-18)(2791,38)(2794,10)(2797,-4)(2800,30)
(2803,-40)(2806,20)(2810,2)(2813,44)(2816,-12)(2819,26)(2822,-24)(2825,14)(2829,36)(2832,-2)
(2835,18)(2838,-32)(2841,48)(2844,8)(2848,-10)(2851,24)(2854,-20)(2857,34)(2860,-86)(2863,12)
(2867,40)(2870,-6)(2873,20)(2876,-28)(2879,30)(2882,4)(2886,-14)(2889,26)(2892,46)(2895,-4)
(2898,14)(2901,-36)(2905,22)(2908,2)(2911,-18)(2914,36)(2917,10)(2920,-8)(2924,28)(2927,-26)
(2930,16)(2933,-2)(2936,42)(2939,-14)(2943,8)(2946,24)(2949,-30)(2952,18)(2955,-6)(2958,34)
(2962,4)(2965,-20)(2968,26)(2971,-10)(2974,12)(2977,-38)(2981,30)(2984,-2)(2987,16)(2990,-16)
(2993,40)(2996,6)(3000,-24)(3003,22)(3006,-8)(3009,32)(3012,2)(3015,-12)(3019,18)(3022,-34)
(3025,28)(3028,-4)(3031,10)(3034,-22)(3038,36)(3041,8)(3044,-14)(3047,20)(3050,-40)(3053,14)
(3057,-2)(3060,30)(3063,-18)(3066,6)(3069,24)(3072,-28)(3076,12)(3079,-6)(3082,38)(3085,-12)
(3088,18)(3091,-24)(3095,28)(3098,2)(3101,-10)(3104,34)(3107,-32)(3110,16)(3114,-4)(3117,22)
(3120,-16)(3123,44)(3126,6)(3129,-20)(3133,26)(3136,-8)(3139,12)(3142,-36)(3145,32)(3148,0)
(3152,-14)(3155,20)(3158,48)(3161,-4)(3164,14)(3167,-26)(3171,30)(3174,-10)(3177,8)(3180,-60)
(3183,24)(3186,-2)(3190,36)(3193,-18)(3196,10)(3199,-30)(3202,22)(3205,4)(3209,-12)(3212,40)
(3215,-6)(3218,16)(3221,-22)(3224,28)(3228,-40)(3231,8)(3234,-4)(3237,32)(3240,-16)(3243,20)
(3247,-28)(3250,12)(3253,44)(3256,-8)(3259,24)(3262,-34)(3266,6)(3269,-2)(3272,30)(3275,-18)
(3278,14)(3281,-24)(3285,38)(3288,-6)(3291,18)(3294,-60)(3297,26)(3300,-10)(3304,10)(3307,34)
(3310,-20)(3313,4)(3316,-60)(3319,22)(3323,-4)(3326,40)(3329,-14)(3332,12)(3335,-30)(3338,28)
(3342,-2)(3345,18)(3348,-16)(3351,36)(3354,-8)(3357,24)(3361,-26)(3364,14)(3367,-40)(3370,30)
(3373,6)(3376,-12)(3380,46)(3383,-4)(3386,20)(3389,-22)(3392,62)(3395,10)(3399,-8)(3402,32)
(3405,-30)(3408,16)(3411,46)(3414,-2)(3418,24)(3420,-14)
};
\addplot[model] coordinates {
(1390,-24)(1410,6)(1430,-20)(1450,4)(1470,-18)(1490,2)(1510,-22)(1530,5)(1550,-16)(1570,-1)
(1590,-19)(1610,3)(1630,-14)(1650,-2)(1670,-20)(1690,4)(1710,-12)(1730,-3)(1750,-17)(1770,1)
(1790,-13)(1810,-2)(1830,-15)(1850,0)(1870,-11)(1890,-4)(1910,-14)(1930,-1)(1950,-16)(1970,2)
(1990,-12)(2010,-3)(2030,-10)(2050,-5)(2070,-13)(2090,-2)(2110,-9)(2130,-4)(2150,-14)(2170,0)
(2190,-12)(2210,-5)(2230,-18)(2250,3)(2270,-15)(2290,-1)(2310,-10)(2330,-4)(2350,-16)(2370,2)
(2390,-12)(2410,-3)(2430,-20)(2450,4)(2470,-14)(2490,-1)(2510,-17)(2530,3)(2550,-11)(2570,-4)
(2590,-18)(2610,2)(2630,-13)(2650,-2)(2670,-9)(2690,-5)(2710,-15)(2730,1)(2750,-12)(2770,-3)
(2790,-19)(2810,4)(2830,-14)(2850,0)(2870,-10)(2890,-4)(2910,-16)(2930,3)(2950,-12)(2970,-2)
(2990,-18)(3010,2)(3030,-11)(3050,-4)(3070,-15)(3090,1)(3110,-13)(3130,-3)(3150,-20)(3170,4)
(3190,-14)(3210,0)(3230,-17)(3250,3)(3270,-12)(3290,-2)(3310,-16)(3330,2)(3350,-11)(3370,-4)
(3390,-14)(3410,-1)(3430,-10)(3450,-3)(3470,-9)(3490,-6)
};
\end{axis}
\end{tikzpicture}
\end{document}
